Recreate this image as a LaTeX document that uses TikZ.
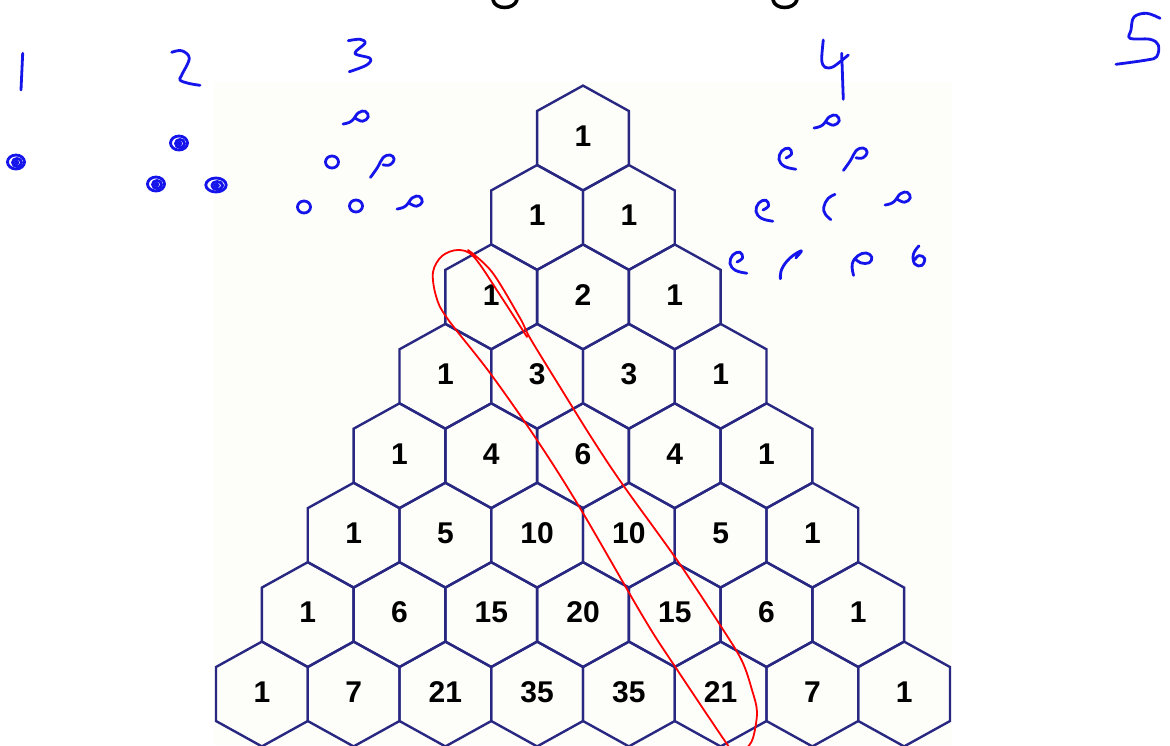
\documentclass[tikz,border=0pt]{standalone}
\usepackage{fontspec}
\setmainfont{Liberation Sans}
\definecolor{hexc}{RGB}{40,40,130}
\definecolor{pen}{RGB}{20,20,235}
\definecolor{paper}{RGB}{253,253,250}
\tikzset{
 hexedge/.style={draw=hexc, line width=2.4pt, line join=miter},
 num/.style={font=\bfseries\fontsize{30}{30}\selectfont, text=black, inner sep=0pt},
 hand/.style={draw=pen, line width=2.8pt, line cap=round, line join=round},
 redpen/.style={draw=red, line width=1.8pt, line cap=round, line join=round},
 titleink/.style={draw=black, line width=3.5pt, line cap=round},
 pics/scrib/.style={code={\draw[hand] (0,0) ellipse (8.5 and 7); \draw[hand] (1,0.5) ellipse (4.5 and 4); \draw[hand] (0.5,0.5) ellipse (1.5 and 1.5);}},
 pics/ring/.style={code={\draw[hand] (0,0) ellipse (6.5 and 6);}},
 pics/ptail/.style={code={\draw[hand] plot[smooth, tension=0.7] coordinates {(-9,11) (-4,4) (0,-3) (5,-5) (8,-2) (5,2) (0,2)};}},
 pics/htail/.style={code={\draw[hand] plot[smooth, tension=0.7] coordinates {(-10,5) (-4,3) (1,-3) (6,-4) (8,0) (4,3) (-1,1)};}},
 pics/ecurl/.style={code={\draw[hand] plot[smooth, tension=0.7] coordinates {(0,0) (4,-3) (2,-7) (-3,-5) (-5,1) (-1,6) (7,8)};}},
 pics/ccurl/.style={code={\draw[hand] plot[smooth, tension=0.7] coordinates {(5,-9) (0,-6) (-3,0) (-2,5) (2,9)};}},
 pics/slash/.style={code={\draw[hand] plot[smooth, tension=0.7] coordinates {(-9,12) (-8,5) (-2,-3) (6,-8) (2,-3)};}},
 pics/six/.style={code={\draw[hand] plot[smooth, tension=0.7] coordinates {(0,-8) (-4,-2) (-3,5) (2,6) (4,1) (0,-1) (-3,2)};}},
 pics/eloop/.style={code={\draw[hand] plot[smooth, tension=0.7] coordinates {(-6,11) (-7,3) (-3,-3) (3,-5) (7,-2) (5,2) (-1,2) (-5,-1)};}},
}
\begin{document}
\begin{tikzpicture}[x=1pt,y=-1pt]
\useasboundingbox (0,0) rectangle (1170,745);
\fill[white] (0,0) rectangle (1170,745);
% pasted picture background
\fill[paper] (214,82) rectangle (952,745);

% hexagonal Pascal triangle
\foreach \r/\vals in {1/{1},2/{1,1},3/{1,2,1},4/{1,3,3,1},5/{1,4,6,4,1},6/{1,5,10,10,5,1},7/{1,6,15,20,15,6,1},8/{1,7,21,35,35,21,7,1}}{
  \pgfmathsetmacro\cy{111+(\r-1)*79.43+27}
  \foreach \v [count=\k from 0] in \vals {
    \pgfmathsetmacro\cx{583+(\k-(\r-1)/2)*91.75}
    \draw[hexedge] (\cx,\cy-52.4) -- (\cx+45.875,\cy-27) -- (\cx+45.875,\cy+27) -- (\cx,\cy+52.4) -- (\cx-45.875,\cy+27) -- (\cx-45.875,\cy-27) -- cycle;
    \node[num] (n\r-\k) at (\cx,\cy-2) {\v};
  }
}

% cut-off title descenders
\draw[titleink] (493,0) .. controls (495,10) and (514,10) .. (517,0);
\draw[titleink] (773,0) .. controls (775,10) and (794,10) .. (797,0);

% handwritten column numbers
\draw[hand] (22.7,53.3) -- (21,90);
\draw[hand] plot[smooth, tension=0.6] coordinates {(171.7,52.3) (181.7,50.7) (189.3,58.3) (181.7,75) (180,80) (188.3,83.3) (200,85.3)};
\draw[hand] plot[smooth, tension=0.6] coordinates {(348.3,40.7) (360,39.3) (365,43.3) (355,53.3) (370,58.3) (366.7,65) (349.3,71.7)};
\draw[hand] plot[smooth, tension=0.5] coordinates {(823.3,40) (821.7,60) (825,67.3) (833.3,66.7) (848.3,55)};
\draw[hand] (841.7,53.3) -- (843.3,99.3);
\draw[hand] plot[smooth, tension=0.6] coordinates {(1160,18.3) (1146.7,13.3) (1134,17) (1131,30) (1130,38.3) (1150,39.3) (1158.3,45) (1156.7,56.7) (1146.7,60) (1116,64.3)};

% handwritten dots
\pic at (16,162) {scrib};
\pic at (179,143) {scrib};
\pic at (156,184) {scrib};
\pic[xscale=1.2] at (216,185) {scrib};
\pic[scale=1.4] at (357,117) {htail};
\pic at (332,162) {ring};
\pic[scale=1.4] at (383,162) {ptail};
\pic at (304,207) {ring};
\pic at (356,206) {ring};
\pic[scale=1.4] at (411,202) {htail};
\pic[scale=1.4] at (828,121) {htail};
\pic[scale=1.4] at (786,158) {ecurl};
\pic[scale=1.4] at (856,155) {ptail};
\pic[scale=1.4] at (763,210) {ecurl};
\pic[scale=1.4] at (828,207) {ccurl};
\pic[scale=1.4] at (899,198) {htail};
\pic[scale=1.4] at (737,262) {ecurl};
\pic[scale=1.4] at (793,262) {slash};
\pic[scale=1.4] at (862,260) {eloop};
\pic[scale=1.4] at (919,257) {six};

% red loop
\begin{scope}
\clip (0,0) rectangle (1170,745);
\draw[redpen] plot[smooth, tension=0.55] coordinates {(527,337) (500,295) (474,257) (458,250) (442,256) (433,272) (436,296) (447,318) (490,373) (537,440) (580,508) (645,620) (678,671) (729,747) (738,757) (746,749) (753,738) (757,712) (752,690) (742,661) (722,628) (677,560) (623,485) (593,440) (560,387) (530,338) (520,318) (492,272) (468,250)};
\end{scope}
\end{tikzpicture}
\end{document}
